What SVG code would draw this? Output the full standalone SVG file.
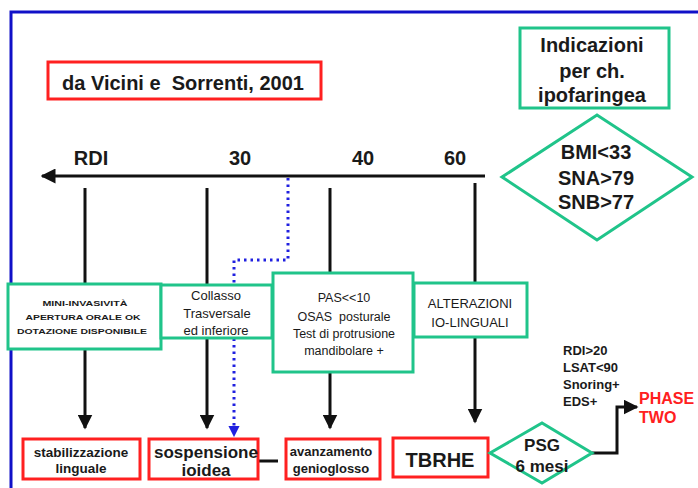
<svg xmlns="http://www.w3.org/2000/svg" width="698" height="488" viewBox="0 0 698 488">
<style>
text{font-family:"Liberation Sans",Arial,sans-serif;fill:#1a1a1a;text-anchor:middle}
.b{font-weight:bold}
.g{fill:#fff;stroke:#20c48a;stroke-width:3}
.r{fill:#fff;stroke:#ff2020;stroke-width:3}
.k{stroke:#111;stroke-width:3;fill:none}
.d{stroke:#2020e0;stroke-width:3;fill:none;stroke-dasharray:2.5 4}
</style>
<defs>
<marker id="ah" viewBox="0 0 10 10" refX="9" refY="5" markerWidth="5" markerHeight="5" orient="auto" markerUnits="strokeWidth"><path d="M0,0L10,5L0,10z" fill="#111"/></marker>
<marker id="ahb" viewBox="0 0 10 10" refX="9" refY="5" markerWidth="3.8" markerHeight="3.8" orient="auto" markerUnits="strokeWidth"><path d="M0,0L10,5L0,10z" fill="#2020e0"/></marker>
</defs>
<rect width="698" height="488" fill="#fff"/>
<path d="M11,495V12H705" stroke="#1010c8" stroke-width="3" fill="none"/>

<g id="connectors">
<path class="k" d="M485,176H42" stroke-width="3.5" marker-end="url(#ah)"/>
<path class="k" d="M85,188V428" marker-end="url(#ah)"/>
<path class="k" d="M207,188V428" marker-end="url(#ah)"/>
<path class="k" d="M330,188V428" marker-end="url(#ah)"/>
<path class="k" d="M475,183V422" marker-end="url(#ah)"/>
<path class="d" d="M288,178V260H234V436" marker-end="url(#ahb)"/>
<path class="k" d="M259,461H278"/>
<path class="k" d="M592,453H617V407H637" marker-end="url(#ah)"/>
</g>

<g id="title"><rect class="r" x="48" y="62" width="273" height="37"/><text class="b" x="183" y="90" font-size="20" xml:space="preserve">da Vicini e  Sorrenti, 2001</text></g>

<g id="axis-labels">
<text class="b" x="91" y="165" font-size="20">RDI</text>
<text class="b" x="240" y="165" font-size="20">30</text>
<text class="b" x="363" y="165" font-size="20">40</text>
<text class="b" x="455" y="165" font-size="20">60</text>
</g>

<g id="indicazioni"><rect class="g" x="520" y="28" width="149" height="80"/>
<text class="b" font-size="20"><tspan x="592" y="52">Indicazioni</tspan><tspan x="592" y="78">per ch.</tspan><tspan x="592" y="102">ipofaringea</tspan></text></g>

<g id="criteri"><path class="g" d="M502,177L597,115L692,177L597,240Z"/>
<text class="b" font-size="20"><tspan x="596" y="159">BMI&lt;33</tspan><tspan x="596" y="185">SNA&gt;79</tspan><tspan x="596" y="209">SNB&gt;77</tspan></text></g>

<g id="mini"><rect class="g" x="8" y="284" width="153" height="65"/>
<text class="b" font-size="7.5" lengthAdjust="spacingAndGlyphs"><tspan x="85" y="306" textLength="85" lengthAdjust="spacingAndGlyphs">MINI-INVASIVITÀ</tspan><tspan x="83" y="320" textLength="115" lengthAdjust="spacingAndGlyphs">APERTURA ORALE OK</tspan><tspan x="82" y="334" textLength="130" lengthAdjust="spacingAndGlyphs">DOTAZIONE DISPONIBILE</tspan></text></g>

<g id="collasso"><rect class="g" x="161" y="285" width="111" height="53"/>
<text font-size="13"><tspan x="216" y="300">Collasso</tspan><tspan x="217" y="318">Trasversale</tspan><tspan x="216" y="335">ed inferiore</tspan></text></g>

<g id="pas"><rect class="g" x="273" y="273" width="140" height="99"/>
<text font-size="12.5" xml:space="preserve"><tspan x="344" y="302">PAS&lt;&lt;10</tspan><tspan x="344" y="321">OSAS  posturale</tspan><tspan x="344" y="338">Test di protrusione</tspan><tspan x="344" y="355">mandibolare +</tspan></text></g>

<g id="alterazioni"><rect class="g" x="414" y="283" width="113" height="54"/>
<text font-size="13"><tspan x="470" y="308">ALTERAZIONI</tspan><tspan x="470" y="327">IO-LINGUALI</tspan></text></g>

<g id="stabilizzazione"><rect class="r" x="23" y="439" width="117" height="40"/>
<text class="b" font-size="13.5"><tspan x="81" y="457">stabilizzazione</tspan><tspan x="81" y="473">linguale</tspan></text></g>

<g id="sospensione"><rect class="r" x="149" y="439" width="109" height="40"/>
<text class="b" font-size="17"><tspan x="206" y="458">sospensione</tspan><tspan x="206" y="476">ioidea</tspan></text></g>

<g id="avanzamento"><rect class="r" x="286" y="439" width="94" height="40"/>
<text class="b" font-size="13"><tspan x="331" y="456">avanzamento</tspan><tspan x="331" y="473">genioglosso</tspan></text></g>

<g id="tbrhe"><rect class="r" x="393" y="438" width="95" height="39"/>
<text class="b" x="440" y="467" font-size="20">TBRHE</text></g>

<g id="psg"><path class="g" d="M490,453L542,423L592,453L542,483Z"/>
<text class="b" font-size="17"><tspan x="542" y="451">PSG</tspan><tspan x="542" y="472">6 mesi</tspan></text></g>

<g id="criteri-psg"><text class="b" font-size="13" style="text-anchor:start"><tspan x="563" y="355">RDI&gt;20</tspan><tspan x="563" y="372">LSAT&lt;90</tspan><tspan x="563" y="389">Snoring+</tspan><tspan x="563" y="406">EDS+</tspan></text></g>

<g id="phase-two"><text class="b" font-size="16" style="text-anchor:start;fill:#ff2020"><tspan x="639" y="404">PHASE</tspan><tspan x="639" y="423">TWO</tspan></text></g>
</svg>
